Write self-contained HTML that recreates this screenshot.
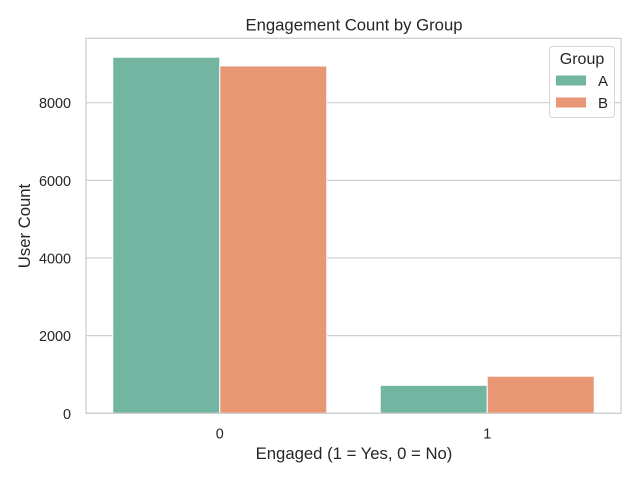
<!DOCTYPE html>
<html><head><meta charset="utf-8"><style>
body{margin:0;background:#fff}
svg{display:block;font-family:"Liberation Sans","DejaVu Sans",sans-serif}
</style></head><body>
<svg id="chart" width="640" height="480">
<text x="354" y="30.7" text-anchor="middle" font-size="16.7" fill="#262626">Engagement Count by Group</text>
<g id="grid"></g>
<g id="bars"></g>
<rect x="86" y="38.3" width="535" height="375" fill="none" stroke="#cccccc" stroke-width="1.25"/>
<g id="yticks"></g>
<g id="xticks"></g>
<text x="354" y="459" text-anchor="middle" font-size="16.7" fill="#262626">Engaged (1 = Yes, 0 = No)</text>
<text transform="translate(30,226) rotate(-90)" text-anchor="middle" font-size="16.7" fill="#262626">User Count</text>
<g>
<rect x="549.5" y="46.5" width="65" height="71" rx="3" fill="#fff" fill-opacity="0.8" stroke="#d6d6d6"/>
<text x="582" y="64" text-anchor="middle" font-size="16" fill="#262626">Group</text>
<rect x="556" y="75.5" width="30" height="10" fill="#72b6a1"/>
<text x="598" y="86" font-size="15" fill="#262626">A</text>
<rect x="556" y="97.5" width="30" height="10" fill="#e99675"/>
<text x="598" y="108" font-size="15" fill="#262626">B</text>
</g>
</svg>
<script>
const categories = ["0", "1"];
const groups = ["A", "B"];
const seriesA = [9170, 720];
const seriesB = [8945, 955];
const yTicks = [0, 2000, 4000, 6000, 8000];
const colors = ["#72b6a1", "#e99675"];
const NS = "http://www.w3.org/2000/svg";
const L = 86, R = 621, T = 38.3, B = 413.3;
const yMax = (B - T) / 38.83 * 1000;
function y(v){ return B - v / yMax * (B - T); }
function x(i){ return L + (i + 0.5) / categories.length * (R - L); }
const band = (R - L) / categories.length;
const grid = document.getElementById('grid');
const yt = document.getElementById('yticks');
yTicks.forEach(t => {
  const ln = document.createElementNS(NS, 'line');
  ln.setAttribute('x1', L); ln.setAttribute('x2', R);
  ln.setAttribute('y1', y(t)); ln.setAttribute('y2', y(t));
  ln.setAttribute('stroke', '#cccccc'); ln.setAttribute('stroke-width', '1.1');
  
  
  grid.appendChild(ln);
  const tx = document.createElementNS(NS, 'text');
  tx.setAttribute('x', L - 15); tx.setAttribute('y', y(t) + 5.5);
  tx.setAttribute('text-anchor', 'end'); tx.setAttribute('font-size', '14.4'); tx.setAttribute('fill', '#262626');
  tx.textContent = t;
  
  
  yt.appendChild(tx);
});
const bars = document.getElementById('bars');
const all = [seriesA, seriesB];
categories.forEach((c, i) => {
  all.forEach((s, g) => {
    const w = band * 0.4;
    const x0 = x(i) - band * 0.4 + g * w;
    const r = document.createElementNS(NS, 'rect');
    r.setAttribute('x', x0); r.setAttribute('width', w);
    r.setAttribute('y', y(s[i])); r.setAttribute('height', B - y(s[i]));
    r.setAttribute('fill', colors[g]); r.setAttribute('stroke', '#fff'); r.setAttribute('stroke-width', '1');
    
    
    bars.appendChild(r);
  });
  const tx = document.createElementNS(NS, 'text');
  tx.setAttribute('x', x(i)); tx.setAttribute('y', B + 25);
  tx.setAttribute('text-anchor', 'middle'); tx.setAttribute('font-size', '14.4'); tx.setAttribute('fill', '#262626');
  tx.textContent = c;
  
  
  document.getElementById('xticks').appendChild(tx);
});
</script>
</body></html>
